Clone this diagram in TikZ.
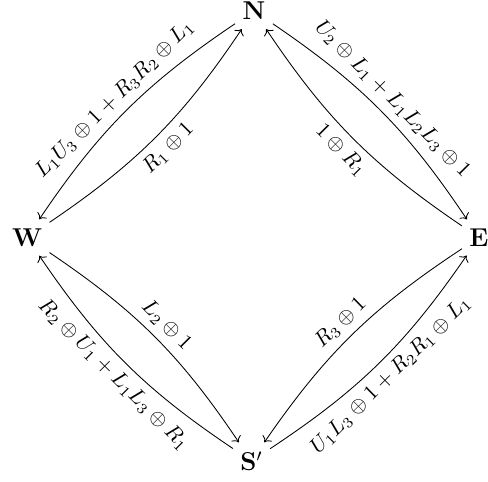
\documentclass[tikz,border=0pt]{standalone}
\usetikzlibrary{arrows.meta}
\begin{document}
\begin{tikzpicture}[x=0.465pt,y=0.465pt,
  vtx/.style={inner xsep=3.5pt, inner ysep=4.3pt, outer sep=0pt, font=\large\bfseries},
  arr/.style={->},
  lbl/.style={sloped, inner sep=3.4pt}]
\useasboundingbox (0,0) rectangle (488,482);
\node[vtx] (N) at (254,471) {N};
\node[vtx] (W) at (27,244.5) {W};
\node[vtx] (E) at (479,244.5) {E};
\node[vtx] (S) at (251.5,21) {$\mathbf{S}'$};
\draw[arr] (N) to[bend right=11] node[lbl, above] {$L_1U_3\oplus 1+R_3R_2\oplus L_1$} (W);
\draw[arr] (W) to[bend right=11] node[lbl, below] {$R_1\oplus 1$} (N);
\draw[arr] (N) to[bend left=11] node[lbl, above] {$U_2\oplus L_1+L_1L_2L_3\oplus 1$} (E);
\draw[arr] (E) to[bend left=11] node[lbl, below] {$1\oplus R_1$} (N);
\draw[arr] (W) to[bend left=11] node[lbl, above] {$L_2\oplus 1$} (S);
\draw[arr] (S) to[bend left=11] node[lbl, below] {$R_2\oplus U_1+L_1L_3\oplus R_1$} (W);
\draw[arr] (E) to[bend right=11] node[lbl, above] {$R_3\oplus 1$} (S);
\draw[arr] (S) to[bend right=11] node[lbl, below] {$U_1L_3\oplus 1+R_2R_1\oplus L_1$} (E);
\end{tikzpicture}
\end{document}
